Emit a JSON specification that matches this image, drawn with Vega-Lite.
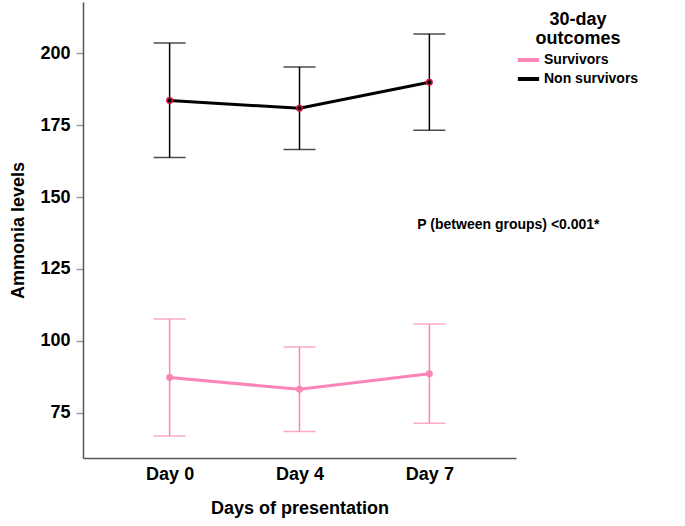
{
  "$schema": "https://vega.github.io/schema/vega-lite/v6.json",
  "width": 433,
  "height": 456,
  "autosize": {"type": "none"},
  "padding": {"left": 83, "top": 2, "right": 169, "bottom": 68},
  "background": "white",
  "config": {
    "view": {"stroke": null},
    "font": "Liberation Sans",
    "axis": {
      "domainColor": "#555555",
      "domainWidth": 1.5,
      "labelFont": "Liberation Sans",
      "labelFontWeight": "bold",
      "labelColor": "black",
      "titleFont": "Liberation Sans",
      "titleFontWeight": "bold",
      "titleColor": "black",
      "titleFontSize": 18,
      "grid": false
    }
  },
  "data": {
    "values": [
      {"day": "Day 0", "group": "Survivors", "mean": 87.2, "lo": 66.9, "hi": 107.6},
      {"day": "Day 4", "group": "Survivors", "mean": 83.1, "lo": 68.4, "hi": 97.8},
      {"day": "Day 7", "group": "Survivors", "mean": 88.5, "lo": 71.3, "hi": 105.8},
      {"day": "Day 0", "group": "Non survivors", "mean": 183.6, "lo": 163.8, "hi": 203.6},
      {"day": "Day 4", "group": "Non survivors", "mean": 180.9, "lo": 166.6, "hi": 195.3},
      {"day": "Day 7", "group": "Non survivors", "mean": 190.0, "lo": 173.3, "hi": 206.8}
    ]
  },
  "encoding": {
    "x": {
      "field": "day",
      "type": "ordinal",
      "sort": ["Day 0", "Day 4", "Day 7"],
      "scale": {"type": "point", "padding": 0.667},
      "axis": {
        "title": "Days of presentation",
        "labelAngle": 0,
        "labelFontSize": 18,
        "ticks": false,
        "labelPadding": 7,
        "titlePadding": 16
      }
    }
  },
  "layer": [
    {
      "mark": {"type": "rule", "strokeWidth": 1.5},
      "encoding": {
        "y": {
          "field": "lo",
          "type": "quantitative",
          "scale": {"domain": [59.2, 217.9], "nice": false, "zero": false},
          "axis": {
            "title": "Ammonia levels",
            "values": [75, 100, 125, 150, 175, 200],
            "labelFontSize": 18,
            "tickColor": "#999999",
            "tickSize": 7,
            "tickWidth": 1.5,
            "labelPadding": 6,
            "titlePadding": 12
          }
        },
        "y2": {"field": "hi"},
        "color": {
          "field": "group",
          "type": "nominal",
          "scale": {"domain": ["Survivors", "Non survivors"], "range": ["#fc85b7", "#000000"]},
          "legend": {
            "title": ["30-day", "outcomes"],
            "orient": "none",
            "legendX": 435,
            "legendY": 9,
            "titleFontSize": 18,
            "titleFontWeight": "bold",
            "titleColor": "black",
            "titleAnchor": "middle",
            "titleAlign": "center",
            "titleLineHeight": 19,
            "titlePadding": 1.5,
            "labelFontSize": 14,
            "labelFontWeight": "bold",
            "labelColor": "black",
            "symbolType": "M-1.25,0H1.25",
            "symbolSize": 289,
            "symbolStrokeWidth": 4,
            "symbolOpacity": 1,
            "rowPadding": 0,
            "labelOffset": 5,
            "encode": {
              "symbols": {
                "update": {
                  "strokeOpacity": {"value": 1},
                  "opacity": {"value": 1},
                  "strokeWidth": {"value": 4}
                }
              }
            }
          }
        }
      }
    },
    {
      "mark": {"type": "tick", "size": 32, "thickness": 1.5, "orient": "horizontal"},
      "encoding": {
        "y": {"field": "lo", "type": "quantitative"},
        "color": {"field": "group", "type": "nominal"}
      }
    },
    {
      "mark": {"type": "tick", "size": 32, "thickness": 1.5, "orient": "horizontal"},
      "encoding": {
        "y": {"field": "hi", "type": "quantitative"},
        "color": {"field": "group", "type": "nominal"}
      }
    },
    {
      "mark": {"type": "line", "strokeWidth": 3},
      "encoding": {
        "y": {"field": "mean", "type": "quantitative"},
        "color": {"field": "group", "type": "nominal"}
      }
    },
    {
      "mark": {"type": "point", "filled": false, "size": 30, "strokeWidth": 1.5, "opacity": 1},
      "encoding": {
        "y": {"field": "mean", "type": "quantitative"},
        "fill": {
          "field": "group",
          "type": "nominal",
          "scale": {"domain": ["Survivors", "Non survivors"], "range": ["#fc85b7", "#000000"]},
          "legend": null
        },
        "stroke": {
          "field": "group",
          "type": "nominal",
          "scale": {"domain": ["Survivors", "Non survivors"], "range": ["#fc85b7", "#d0103a"]},
          "legend": null
        }
      }
    },
    {
      "data": {"values": [{"day": "Day 7", "y": 140.3, "label": "P (between groups) <0.001*"}]},
      "mark": {"type": "text", "align": "left", "baseline": "middle", "dx": -12, "fontSize": 14, "fontWeight": "bold", "font": "Liberation Sans", "color": "black"},
      "encoding": {
        "y": {"field": "y", "type": "quantitative"},
        "text": {"field": "label"}
      }
    }
  ]
}
